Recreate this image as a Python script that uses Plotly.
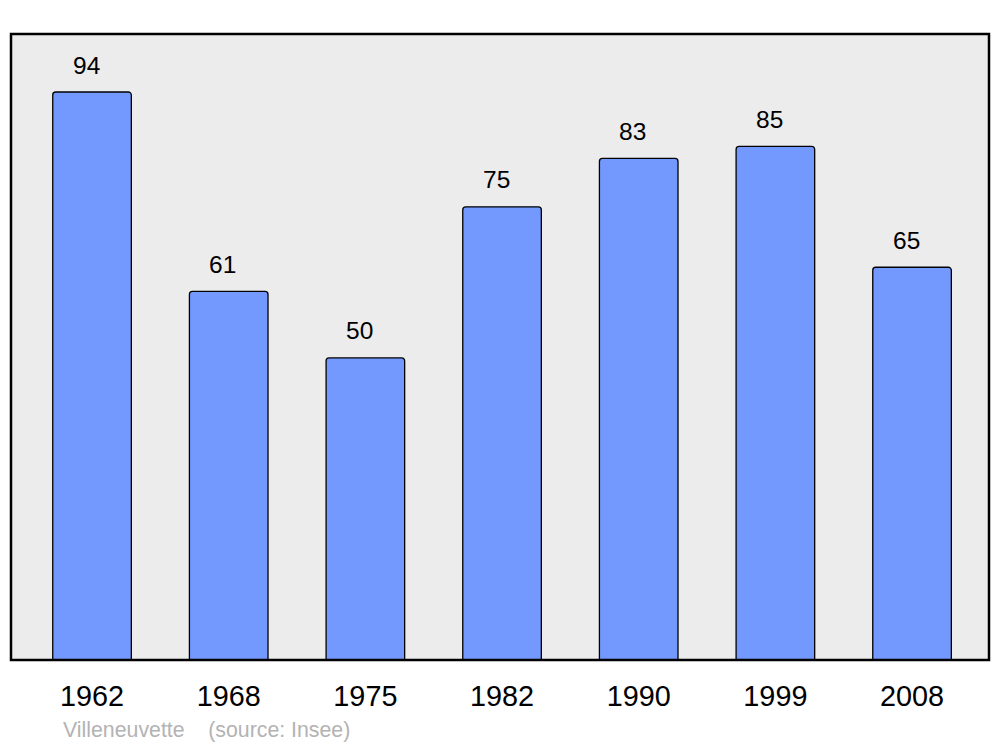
import plotly.graph_objects as go

years = ["1962", "1968", "1975", "1982", "1990", "1999", "2008"]
population = [94, 61, 50, 75, 83, 85, 65]
source_text = "Villeneuvette    (source: Insee)"

fig = go.Figure()
fig.add_trace(go.Bar(
    x=list(range(len(years))),
    y=population,
    width=0.575,
    marker=dict(color="#7399ff", line=dict(color="#000000", width=1.3), cornerradius=3),
    hoverinfo="skip",
))

for i, v in enumerate(population):
    fig.add_annotation(x=i, y=v, text=str(v), showarrow=False, yanchor="middle",
                       yshift=27, xshift=-6,
                       font=dict(family="Liberation Sans", size=24.5, color="#000000"))

fig.add_annotation(x=(61 - 11) / 978, y=-(730 - 660) / 626, xref="paper", yref="paper",
                   text=source_text, showarrow=False, xanchor="left", yanchor="middle",
                   font=dict(family="Liberation Sans", size=21.3, color="#b3b3b3"))

fig.update_layout(
    width=992, height=739,
    margin=dict(l=3, r=11, t=26, b=87),
    paper_bgcolor="#ffffff",
    plot_bgcolor="#ececec",
    showlegend=False,
    xaxis=dict(range=[-0.593, 6.563], tickmode="array", tickvals=list(range(len(years))),
               ticktext=years, showgrid=False, zeroline=False, showline=False, ticks="",
               tickfont=dict(family="Liberation Sans", size=28.8, color="#000000"),
               ticklabelstandoff=16, fixedrange=True),
    yaxis=dict(range=[0, 103.6], showgrid=False, zeroline=False, showticklabels=False,
               ticks="", showline=False, fixedrange=True),
    shapes=[dict(type="rect", xref="paper", yref="paper", x0=0, x1=1, y0=0, y1=1,
                 line=dict(color="#000000", width=2.5), layer="above")],
)

fig.write_html("out.html")
